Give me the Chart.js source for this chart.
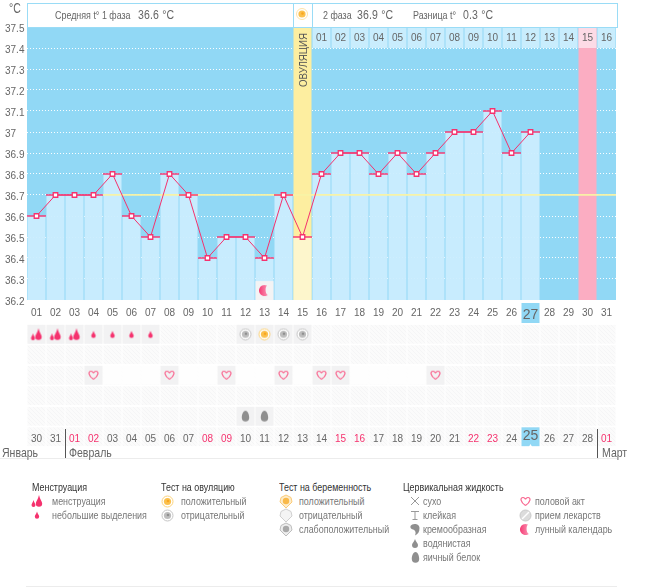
<!DOCTYPE html>
<html lang="ru">
<head>
<meta charset="utf-8">
<title>График базальной температуры</title>
<script src="https://cdn.jsdelivr.net/npm/chart.js"></script>
<style>
    html, body { margin: 0; padding: 0; background: #fff; }
    body { width: 655px; height: 587px; position: relative; overflow: hidden; font-family: "Liberation Sans", Arial, sans-serif; color: #666; }
    canvas { position: absolute; left: 0; }
    #tempChart { top: 0; }
    #marksChart { top: 322px; }
    .t { position: absolute; white-space: nowrap; line-height: 14px; font-size: 11px; transform: scaleX(0.81); transform-origin: left center; }
    .v { font-size: 13px; letter-spacing: 0.2px; }
    .box { position: absolute; top: 3px; height: 23px; background: #fff; border: 1px solid #9adcf6; box-sizing: content-box; }
    .vline { position: absolute; top: 429px; height: 29px; width: 1px; background: #555; }
    .hline { position: absolute; height: 1px; background: #ececec; }
    .month { font-size: 13px; top: 446px; }
    .lt { color: #333; }
    .li { color: #777; }
</style>
</head>
<body>
<canvas id="tempChart" width="655" height="324"></canvas>
<canvas id="marksChart" width="655" height="130"></canvas>

<div class="box" style="left:27px;width:265px"></div>
<div class="box" style="left:293px;width:18px"></div>
<div class="box" style="left:312px;width:304px"></div>
<canvas id="sunIcon" style="left:295px;top:7px"></canvas>

<div class="t" style="left:9px;top:1px;font-size:14px;transform:scaleX(0.75)">°C</div>
<div class="t" style="left:55px;top:8px">Средняя t° 1 фаза</div>
<div class="t v" style="left:138px;top:8px">36.6 °C</div>
<div class="t" style="left:323px;top:8px">2 фаза</div>
<div class="t v" style="left:357px;top:8px">36.9 °C</div>
<div class="t" style="left:413px;top:8px">Разница t°</div>
<div class="t v" style="left:463px;top:8px">0.3 °C</div>
<div class="t" style="left:303px;top:60px;color:#555;transform-origin:center;transform:translate(-50%,-50%) rotate(-90deg) scaleX(0.88)">ОВУЛЯЦИЯ</div>

<div class="vline" style="left:65px"></div>
<div class="vline" style="left:597px"></div>
<div class="hline" style="left:0;top:458px;width:617px"></div>
<div class="hline" style="left:26px;top:586px;width:591px"></div>
<div class="t month" style="left:2px">Январь</div>
<div class="t month" style="left:69px">Февраль</div>
<div class="t month" style="left:602px">Март</div>

<div id="legend"></div>

<script>
// Cycle days and temperatures
const cycleDays = ['01','02','03','04','05','06','07','08','09','10','11','12','13','14','15','16','17','18','19','20','21','22','23','24','25','26','27','28','29','30','31'];
const temps = [36.6,36.7,36.7,36.7,36.8,36.6,36.5,36.8,36.7,36.4,36.5,36.5,36.4,36.7,36.5,36.8,36.9,36.9,36.8,36.9,36.8,36.9,37,37,37.1,36.9,37];
const tempTickLabels = ['36.2','36.3','36.4','36.5','36.6','36.7','36.8','36.9','37','37.1','37.2','37.3','37.4','37.5'];
const phaseTwoDays = ['','','','','','','','','','','','','','','','01','02','03','04','05','06','07','08','09','10','11','12','13','14','15','16'];
const dateLabels = ['30','31','01','02','03','04','05','06','07','08','09','10','11','12','13','14','15','16','17','18','19','20','21','22','23','24','25','26','27','28','01'];
const redDates = [3,4,10,11,17,18,24,25,31];

const today = 27;
const ovulationDay = 15;
const periodDay = 30;
const coverTemp = 36.7;
const moonDays = [13];

// Marks by row in the table under the chart
const heavyFlowDays = [1,2,3];
const lightFlowDays = [4,5,6,7];
const testNegativeDays = [12,14,15];
const testPositiveDays = [13];
const loveDays = [4,8,11,14,16,17,22];
const eggWhiteDays = [12,13];

const minTemp = 36.2;
const maxTemp = 37.5;
const fontName = '"Liberation Sans", Arial, sans-serif';
const textColor = '#666';
const pink = '#f5326e';
const lightBlue = 'rgba(203,237,254,0.94)';

// Icons, drawn once on small canvases and used as point styles
function makeIcon(w, h, draw) {
    const c = document.createElement('canvas');
    c.width = w;
    c.height = h;
    draw(c.getContext('2d'));
    return c;
}

function drop(ctx, x, y, r, h, color) {
    ctx.fillStyle = color;
    ctx.beginPath();
    ctx.moveTo(x, y - h);
    ctx.bezierCurveTo(x + r * 0.3, y - h * 0.5, x + r, y - r * 0.5, x + r, y);
    ctx.arc(x, y, r, 0, Math.PI);
    ctx.bezierCurveTo(x - r, y - r * 0.5, x - r * 0.3, y - h * 0.5, x, y - h);
    ctx.fill();
}

function ring(ctx, outer, mid, core) {
    ctx.lineWidth = 1;
    ctx.strokeStyle = outer;
    ctx.fillStyle = '#fff';
    ctx.beginPath();
    ctx.arc(6.5, 6.5, 5.5, 0, 7);
    ctx.fill();
    ctx.stroke();
    ctx.fillStyle = mid;
    ctx.beginPath();
    ctx.arc(6.5, 6.5, 3.6, 0, 7);
    ctx.fill();
    ctx.fillStyle = core;
    ctx.beginPath();
    ctx.arc(7, 6, 1.3, 0, 7);
    ctx.fill();
}

function shield(ctx, stroke, fill, core) {
    ctx.strokeStyle = stroke;
    ctx.fillStyle = fill;
    ctx.beginPath();
    ctx.moveTo(7, 1);
    ctx.lineTo(12, 3.5);
    ctx.lineTo(13, 8);
    ctx.lineTo(9, 12);
    ctx.lineTo(7, 14);
    ctx.lineTo(5, 12);
    ctx.lineTo(1, 8);
    ctx.lineTo(2, 3.5);
    ctx.closePath();
    ctx.fill();
    ctx.stroke();
    if (core) {
        ctx.fillStyle = core;
        ctx.beginPath();
        ctx.arc(7, 7, 3.2, 0, 7);
        ctx.fill();
    }
}

const icons = {
    heavy: makeIcon(14, 14, ctx => {
        drop(ctx, 9, 9.5, 3.2, 8.5, pink);
        drop(ctx, 3.5, 11, 2, 5, pink);
    }),
    light: makeIcon(8, 10, ctx => drop(ctx, 4, 6.5, 2.2, 5, pink)),
    positive: makeIcon(13, 13, ctx => ring(ctx, '#fbd27a', '#fbc04c', '#f9a51e')),
    negative: makeIcon(13, 13, ctx => ring(ctx, '#c4c4c4', '#bdbdbd', '#8f8f8f')),
    heart: makeIcon(11, 11, ctx => {
        ctx.strokeStyle = '#f9668f';
        ctx.lineWidth = 1.2;
        ctx.beginPath();
        ctx.moveTo(5.5, 9.5);
        ctx.bezierCurveTo(0, 6, 0, 1.5, 3, 1.5);
        ctx.bezierCurveTo(4.5, 1.5, 5.5, 3, 5.5, 3.5);
        ctx.bezierCurveTo(5.5, 3, 6.5, 1.5, 8, 1.5);
        ctx.bezierCurveTo(11, 1.5, 11, 6, 5.5, 9.5);
        ctx.stroke();
    }),
    egg: makeIcon(9, 13, ctx => {
        ctx.fillStyle = '#8f8f8f';
        ctx.beginPath();
        ctx.moveTo(4.5, 1);
        ctx.bezierCurveTo(7, 1, 8.2, 5, 8.2, 8);
        ctx.arc(4.5, 8, 3.7, 0, Math.PI);
        ctx.bezierCurveTo(0.8, 5, 2, 1, 4.5, 1);
        ctx.fill();
    }),
    moon: makeIcon(13, 13, ctx => {
        const g = ctx.createLinearGradient(0, 0, 13, 0);
        g.addColorStop(0, '#f5326e');
        g.addColorStop(1, '#fbb2c8');
        ctx.fillStyle = g;
        ctx.beginPath();
        ctx.arc(6.5, 6.5, 5.5, Math.PI * 0.35, Math.PI * 1.65);
        ctx.bezierCurveTo(7, 3.5, 7, 9.5, 9.9, 10.9);
        ctx.fill();
    }),
    testPos: makeIcon(14, 15, ctx => shield(ctx, '#fbcb78', '#fdeccb', '#f9b94a')),
    testNeg: makeIcon(14, 15, ctx => shield(ctx, '#cfcfcf', '#f4f4f4')),
    testWeak: makeIcon(14, 15, ctx => shield(ctx, '#bdbdbd', '#eeeeee', '#a9a9a9')),
    dry: makeIcon(10, 10, ctx => {
        ctx.strokeStyle = '#999';
        ctx.beginPath();
        ctx.moveTo(1, 1);
        ctx.lineTo(9, 9);
        ctx.moveTo(9, 1);
        ctx.lineTo(1, 9);
        ctx.stroke();
    }),
    sticky: makeIcon(10, 11, ctx => {
        ctx.strokeStyle = '#999';
        ctx.beginPath();
        ctx.moveTo(1, 1.5);
        ctx.lineTo(9, 1.5);
        ctx.moveTo(5, 1.5);
        ctx.lineTo(5, 9.5);
        ctx.moveTo(2.5, 9.5);
        ctx.lineTo(7.5, 9.5);
        ctx.stroke();
    }),
    creamy: makeIcon(10, 13, ctx => {
        ctx.fillStyle = '#8f8f8f';
        ctx.beginPath();
        ctx.moveTo(0.5, 3);
        ctx.bezierCurveTo(2, 0, 9.5, 0, 9.5, 5);
        ctx.bezierCurveTo(9.5, 9, 8, 11, 5, 12.5);
        ctx.bezierCurveTo(6.5, 9, 5, 7, 3, 6.5);
        ctx.bezierCurveTo(1, 6, 0, 5, 0.5, 3);
        ctx.fill();
    }),
    watery: makeIcon(8, 11, ctx => drop(ctx, 4, 7, 3, 6, '#8f8f8f')),
    pill: makeIcon(13, 13, ctx => {
        ctx.fillStyle = '#dcdcdc';
        ctx.strokeStyle = '#c8c8c8';
        ctx.beginPath();
        ctx.arc(6.5, 6.5, 5.5, 0, 7);
        ctx.fill();
        ctx.stroke();
        ctx.strokeStyle = '#fff';
        ctx.lineWidth = 1.5;
        ctx.beginPath();
        ctx.moveTo(3, 10);
        ctx.lineTo(10, 3);
        ctx.stroke();
    })
};

// Cell texture of the table
const cellTile = makeIcon(4, 4, ctx => {
    ctx.fillStyle = '#fbfbfb';
    ctx.fillRect(0, 0, 4, 4);
    ctx.fillStyle = '#f5f5f6';
    [[0,0],[1,1],[2,2],[3,3]].forEach(p => ctx.fillRect(p[0], p[1], 1, 1));
});

// Forces an axis to a fixed thickness so the plot lands on the pixel grid
const fixedWidth = w => ({ afterFit: s => { s.width = w; } });
const fixedHeight = h => ({ afterFit: s => { s.height = h; } });

// Blue ground of the plot and the highlighted "today" cell under it
const groundPlugin = {
    id: 'ground',
    beforeDraw(chart) {
        const { ctx, chartArea: a, scales: { x } } = chart;
        ctx.save();
        ctx.fillStyle = '#91d8f5';
        ctx.fillRect(a.left, a.top, a.right - a.left, a.bottom - a.top);
        ctx.fillRect(x.getPixelForValue(today - 1) - 9, a.bottom + 3, 18, 20);
        ctx.restore();
    }
};

function initializeTempChart() {
    const whole = day => cycleDays.map((d, i) => (i === day - 1 ? [minTemp, maxTemp] : null));
    const padded = temps.concat(new Array(cycleDays.length - temps.length).fill(null));

    new Chart(document.getElementById('tempChart'), {
        data: {
            labels: cycleDays,
            datasets: [
                { type: 'bar', label: 'Овуляция', data: whole(ovulationDay), backgroundColor: '#fdeea0', order: 12 },
                { type: 'bar', label: 'Месячные', data: whole(periodDay), backgroundColor: '#fbadc2', order: 12 },
                {
                    type: 'bar',
                    label: 'Дни фазы 2',
                    data: phaseTwoDays.map(d => (d ? [37.4, maxTemp] : null)),
                    backgroundColor: ctx => (ctx.dataIndex === periodDay - 1 ? '#fddbe6' : '#c9edfd'),
                    order: 11
                },
                {
                    type: 'bar',
                    label: 'Температура',
                    data: padded.map(v => (v === null ? null : [minTemp, v])),
                    backgroundColor: ctx => (ctx.dataIndex === ovulationDay - 1 ? '#fdf6cc' : lightBlue),
                    order: 10
                },
                {
                    type: 'bar',
                    label: 'Покровная линия',
                    data: cycleDays.map((d, i) => (i >= 4 ? [coverTemp - 0.002, coverTemp + 0.003] : null)),
                    backgroundColor: '#f8f3a6',
                    categoryPercentage: 1,
                    order: 9
                },
                {
                    type: 'bar',
                    label: 'Луна фон',
                    data: cycleDays.map((d, i) => (moonDays.includes(i + 1) ? [minTemp, 36.29] : null)),
                    backgroundColor: '#f3f3f4',
                    order: 8
                },
                {
                    type: 'line',
                    label: 'Засечки',
                    data: padded,
                    showLine: false,
                    pointStyle: 'line',
                    pointRadius: 9.5,
                    pointBorderWidth: 1.4,
                    pointBorderColor: pink,
                    order: 3
                },
                {
                    type: 'line',
                    label: 'График',
                    data: padded,
                    borderColor: pink,
                    borderWidth: 1,
                    tension: 0,
                    pointStyle: 'rect',
                    pointRadius: 3.2,
                    pointBorderWidth: 1.3,
                    pointBorderColor: pink,
                    pointBackgroundColor: '#fff',
                    order: 2
                },
                {
                    type: 'line',
                    label: 'Луна',
                    data: cycleDays.map((d, i) => (moonDays.includes(i + 1) ? 36.245 : null)),
                    showLine: false,
                    pointStyle: icons.moon,
                    order: 1
                }
            ]
        },
        options: {
            responsive: false,
            animation: false,
            layout: { autoPadding: false, padding: { left: 5, right: 39, top: 27, bottom: 0 } },
            datasets: { bar: { barPercentage: 1, categoryPercentage: 18 / 19, grouped: false } },
            plugins: { legend: { display: false }, tooltip: { enabled: false } },
            scales: {
                x: {
                    type: 'category',
                    offset: true,
                    grid: { display: false, drawTicks: false },
                    border: { display: false },
                    ticks: {
                        autoSkip: false,
                        maxRotation: 0,
                        padding: 7,
                        color: textColor,
                        font: ctx => ({ family: fontName, size: ctx.index === today - 1 ? 14 : 10 })
                    },
                    ...fixedHeight(24)
                },
                top: {
                    type: 'category',
                    position: 'top',
                    labels: phaseTwoDays,
                    offset: true,
                    grid: { display: false, drawTicks: false },
                    border: { display: false },
                    ticks: {
                        autoSkip: false,
                        maxRotation: 0,
                        mirror: true,
                        padding: 5,
                        z: 1,
                        color: textColor,
                        font: { family: fontName, size: 10 }
                    },
                    ...fixedHeight(0)
                },
                y: {
                    min: minTemp,
                    max: maxTemp,
                    grid: {
                        drawTicks: false,
                        color: ctx => (ctx.index === tempTickLabels.length - 1 || ctx.index === 0 ? 'transparent' : 'rgba(255,255,255,0.95)')
                    },
                    border: { display: false, dash: [1, 2] },
                    ticks: {
                        stepSize: 0.1,
                        autoSkip: false,
                        crossAlign: 'far',
                        padding: 0,
                        color: textColor,
                        font: { family: fontName, size: 10, lineHeight: '4px' },
                        // blank first line drops the number 2px under its grid line
                        callback: (value, index) => ['', tempTickLabels[index]]
                    },
                    ...fixedWidth(22)
                }
            }
        },
        plugins: [groundPlugin]
    });
}

function initializeMarksChart() {
    const rowCount = 6;
    const cellFill = document.getElementById('marksChart').getContext('2d').createPattern(cellTile, 'repeat');
    const cellBar = (row, days) => cycleDays.map((d, i) => (days.includes(i + 1) ? [row + 0.04, row + 0.96] : null));
    const allDays = cycleDays.map((d, i) => i + 1);
    const marks = [
        { row: 0, days: heavyFlowDays, icon: icons.heavy },
        { row: 0, days: lightFlowDays, icon: icons.light },
        { row: 0, days: testNegativeDays, icon: icons.negative },
        { row: 0, days: testPositiveDays, icon: icons.positive },
        { row: 2, days: loveDays, icon: icons.heart },
        { row: 4, days: eggWhiteDays, icon: icons.egg }
    ];

    const datasets = [];
    for (let r = 0; r < rowCount; r++) {
        datasets.push({ type: 'bar', data: cellBar(r, allDays), backgroundColor: cellFill, order: 20 });
    }
    // Cells between the first and last heart are left plain
    const plainDays = allDays.filter(d => d > loveDays[0] && d < loveDays[loveDays.length - 1]);
    datasets.push({ type: 'bar', data: cellBar(2, plainDays), backgroundColor: '#fefefe', order: 19 });
    datasets.push({ type: 'bar', data: cellBar(rowCount - 1, [today]), backgroundColor: '#91d8f5', order: 18 });
    marks.forEach(m => {
        datasets.push({ type: 'bar', data: cellBar(m.row, m.days), backgroundColor: '#f2f2f3', order: 15 });
        datasets.push({
            type: 'line',
            data: cycleDays.map((d, i) => (m.days.includes(i + 1) ? m.row + 0.5 : null)),
            showLine: false,
            pointStyle: m.icon,
            order: 1
        });
    });
    datasets.push({
        type: 'line',
        data: cycleDays.map((d, i) => (i === today - 1 ? rowCount - 0.05 : null)),
        showLine: false,
        pointStyle: 'triangle',
        pointRadius: 2,
        pointBorderWidth: 0,
        pointBackgroundColor: '#fff',
        order: 1
    });

    new Chart(document.getElementById('marksChart'), {
        data: { labels: dateLabels.map((d, i) => i), datasets: datasets },
        options: {
            responsive: false,
            animation: false,
            layout: { autoPadding: false, padding: { left: 27, right: 39, top: 2, bottom: 5 } },
            datasets: { bar: { barPercentage: 1, categoryPercentage: 18 / 19, grouped: false } },
            plugins: { legend: { display: false }, tooltip: { enabled: false } },
            scales: {
                x: {
                    type: 'category',
                    offset: true,
                    grid: { display: false, drawTicks: false },
                    border: { display: false },
                    ticks: {
                        autoSkip: false,
                        maxRotation: 0,
                        mirror: true,
                        padding: 2,
                        z: 1,
                        color: ctx => (redDates.includes(ctx.index + 1) ? pink : textColor),
                        font: ctx => ({ family: fontName, size: ctx.index === today - 1 ? 14 : 10 }),
                        callback: (value, index) => dateLabels[index]
                    },
                    ...fixedHeight(0)
                },
                y: { display: false, reverse: true, min: 0, max: rowCount }
            }
        }
    });
}

// Legend under the chart
const legendColumns = [
    { cls: 'c1', title: 'Менструация', items: [['менструация', 'heavy'], ['небольшие выделения', 'light']] },
    { cls: 'c2', title: 'Тест на овуляцию', items: [['положительный', 'positive'], ['отрицательный', 'negative']] },
    { cls: 'c3', title: 'Тест на беременность', items: [['положительный', 'testPos'], ['отрицательный', 'testNeg'], ['слабоположительный', 'testWeak']] },
    { cls: 'c4', title: 'Цервикальная жидкость', items: [['сухо', 'dry'], ['клейкая', 'sticky'], ['кремообразная', 'creamy'], ['водянистая', 'watery'], ['яичный белок', 'egg']] },
    { cls: 'c5', title: '', items: [['половой акт', 'heart'], ['прием лекарств', 'pill'], ['лунный календарь', 'moon']] }
];
const legendLayout = { c1: [32, 37, 52], c2: [161, 167, 181], c3: [279, 286, 299], c4: [403, 415, 423], c5: [525, 525, 535] };

function buildLegend() {
    const holder = document.getElementById('legend');
    const addText = (text, cls, left, top) => {
        const el = document.createElement('div');
        el.className = 't ' + cls;
        el.textContent = text;
        el.style.left = left + 'px';
        el.style.top = top + 'px';
        holder.appendChild(el);
    };
    legendColumns.forEach(col => {
        const [titleX, iconX, textX] = legendLayout[col.cls];
        if (col.title) addText(col.title, 'lt', titleX, 480);
        col.items.forEach((item, i) => {
            const cy = 501 + i * 14;
            addText(item[0], 'li', textX, cy - 7);
            const src = icons[item[1]];
            const c = makeIcon(src.width, src.height, ctx => ctx.drawImage(src, 0, 0));
            c.style.left = Math.round(iconX - src.width / 2) + 'px';
            c.style.top = Math.round(cy - src.height / 2) + 'px';
            holder.appendChild(c);
        });
    });
}

function drawSun() {
    const c = document.getElementById('sunIcon');
    c.width = 14;
    c.height = 14;
    const ctx = c.getContext('2d');
    ctx.translate(0.5, 0.5);
    ring(ctx, '#fde3a8', '#fbc04c', '#f9a51e');
}

window.addEventListener('load', () => {
    initializeTempChart();
    initializeMarksChart();
    buildLegend();
    drawSun();
});
</script>
</body>
</html>
